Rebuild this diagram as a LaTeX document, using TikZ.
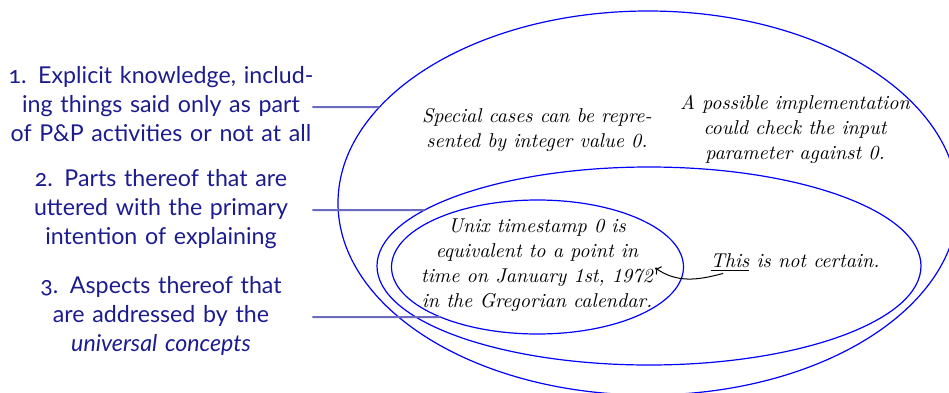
\documentclass[tikz,border=0pt]{standalone}
\usepackage{fontspec}
\newfontfamily\labfont{Lato}[Numbers=OldStyle]
\usetikzlibrary{intersections,arrows.meta}
\definecolor{labcol}{rgb}{0.11,0.11,0.56}
\definecolor{linkcol}{rgb}{0.42,0.42,0.76}
\newcommand\ctrline[1]{\makebox[0pt]{\strut #1}}
\begin{document}
\begin{tikzpicture}[x=0.5pt,y=-0.5pt,
  lab/.style={font=\labfont\fontsize{11.6}{14.5}\selectfont, text=labcol, align=center, inner sep=0pt, text width=151pt},
  note/.style={font=\itshape\fontsize{10}{12.5}\selectfont, align=center, inner sep=0pt},
  ell/.style={draw=blue, line width=0.6pt},
  link/.style={draw=linkcol, line width=1pt},
]
\useasboundingbox (0,0) rectangle (949,392);
% ellipses
\draw[ell, name path=e1] (648,203) ellipse [x radius=310, y radius=192];
\draw[ell, name path=e2] (649,266) ellipse [x radius=272, y radius=99];
\draw[ell, name path=e3] (537.5,267) ellipse [x radius=146, y radius=67];
% labels
\node[lab] (l1) at (161,107) {\ctrline{1. Explicit knowledge, includ-}\\\ctrline{ing things said only as part}\\\ctrline{of P\&P activities or not at all}};
\node[lab] (l2) at (161,210) {\ctrline{2. Parts thereof that are}\\\ctrline{uttered with the primary}\\\ctrline{intention of explaining}};
\node[lab] (l3) at (161,317) {\ctrline{3. Aspects thereof that}\\\ctrline{are addressed by the}\\\ctrline{\textit{universal concepts}}};
% connectors
\path[name path=h1] (l1.east) -- ++(250,0);
\path[name path=h2] (l2.east) -- ++(250,0);
\path[name path=h3] (l3.east) -- ++(180,0);
\path[name intersections={of=e1 and h1, by=c1}];
\path[name intersections={of=e2 and h2, by=c2}];
\path[name intersections={of=e3 and h3, by=c3}];
\draw[link] (l1.east) -- (c1);
\draw[link] (l2.east) -- (c2);
\draw[link] (l3.east) -- (c3);
% notes
\node[note] (sp) at (537,130) {Special cases can be repre-\\sented by integer value 0.};
\node[note] (pi) at (795,129) {A possible implementation\\could check the input\\parameter against 0.};
\node[note] (ux) at (537,265.5) {Unix timestamp 0 is\\equivalent to a point in\\time on January \oldstylenums{1}st, \oldstylenums{1972}\\in the Gregorian calendar.};
\node[note] (nc) at (795,263) {\underline{This} is not certain.};
\coordinate (ts) at ([xshift=6.5pt,yshift=-2.8pt]nc.base west);
\coordinate (tip) at ([xshift=1pt,yshift=-1.2pt]ux.east);
\draw[line width=0.5pt, -{To[length=2.5pt,width=5pt]}] (ts) to[out=195,in=-35] (tip);
\end{tikzpicture}
\end{document}
